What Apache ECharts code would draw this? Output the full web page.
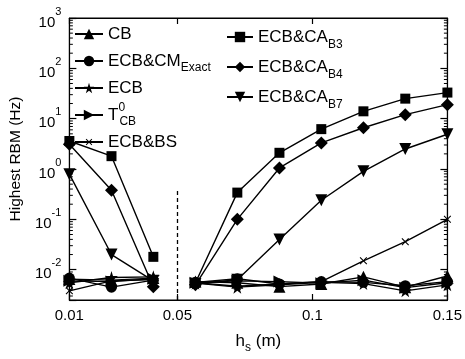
<!DOCTYPE html>
<html>
<head>
<meta charset="utf-8">
<script src="https://cdn.jsdelivr.net/npm/echarts@6/dist/echarts.min.js"></script>
<style>
  html, body { margin: 0; padding: 0; background: #fff; }
  #chart { width: 465px; height: 359px; }
</style>
</head>
<body>
<div id="chart"></div>
<script>
// Stiffener height sweep (m); the line breaks between the 3rd and 4th size
const hs = [0.01, 0.0256, 0.0411, 0.0567, 0.0722, 0.0878, 0.1033, 0.1189, 0.1344, 0.15];
const breakBefore = 3;

// Highest RBM frequency (Hz) for each model
const cb      = [0.0065, 0.0062, 0.0068, 0.0058, 0.0055, 0.0046, 0.0052, 0.0072, 0.0045, 0.0075];
const ecbCm   = [0.0068, 0.0045, 0.0062, 0.0056, 0.0066, 0.0052, 0.0058, 0.0056, 0.0048, 0.0058];
const ecb     = [0.0055, 0.0070, 0.0072, 0.0054, 0.0045, 0.0050, 0.0056, 0.0053, 0.0038, 0.0050];
const t0cb    = [0.0060, 0.0058, 0.0066, 0.0055, 0.0060, 0.0058, 0.0054, 0.0062, 0.0044, 0.0055];
const ecbBs   = [0.0038, 0.0060, 0.0064, 0.0055, 0.0047, 0.0052, 0.0058, 0.0150, 0.036, 0.10];
const ecbCaB3 = [3.6, 1.8, 0.018, 0.0055, 0.34, 2.1, 6.2, 14, 25, 33];
const ecbCaB4 = [3.1, 0.38, 0.0046, 0.0050, 0.10, 1.05, 3.3, 6.6, 12, 19];
const ecbCaB7 = [0.79, 0.020, 0.0060, 0.0052, 0.0063, 0.040, 0.24, 0.90, 2.5, 4.9];

// Axis ticks
const xTicks = [0.01, 0.05, 0.1, 0.15];
const yMin = 0.0025, yMax = 1000;

// Dashed divider between the two size ranges
const dividerX = 0.05, dividerTop = 0.38;

const starPath = 'path://M50,0 L61,35 L98,35 L68,57 L79,91 L50,70 L21,91 L32,57 L2,35 L39,35 Z';
// Thin "x" marker; the two empty sub-paths pad its box so it stays small next to the other symbols
const crossPath = 'path://M-3,-3 L-3,-3 Z M13,13 L13,13 Z M0,1 L1,0 L5,4 L9,0 L10,1 L6,5 L10,9 L9,10 L5,6 L1,10 L0,9 L4,5 Z';

function toPairs(vals) {
  const out = [];
  vals.forEach((v, i) => {
    if (i === breakBefore) out.push(['-', '-']);
    out.push([hs[i], v]);
  });
  return out;
}

// Log minor tick positions (2..9 in every decade)
const minorVals = [];
for (let e = -3; e < 3; e++) {
  for (let m = 2; m <= 9; m++) {
    const v = m * Math.pow(10, e);
    if (v > yMin && v < yMax) minorVals.push(v);
  }
}

const legendNames = {
  'CB': 'CB',
  'ECB&CM': '{b|ECB&CM}{sub|Exact}',
  'ECB': 'ECB',
  'T0': '{b|T}{supn|0}{sub|CB}',
  'ECB&BS': 'ECB&BS',
  'ECB&CA3': '{b|ECB&CA}{sub|B3}',
  'ECB&CA4': '{b|ECB&CA}{sub|B4}',
  'ECB&CA7': '{b|ECB&CA}{sub|B7}'
};

const richLegend = {
  b: { fontSize: 17, fontFamily: 'Liberation Sans', color: '#000', verticalAlign: 'middle' },
  sub: { fontSize: 12, fontFamily: 'Liberation Sans', color: '#000', verticalAlign: 'bottom' },
  supn: { fontSize: 12, fontFamily: 'Liberation Sans', color: '#000', verticalAlign: 'top', width: 1 }
};

function lineSeries(name, vals, symbol, size, rotate) {
  return {
    name: name,
    type: 'line',
    data: toPairs(vals),
    symbol: symbol,
    symbolSize: size,
    symbolRotate: rotate || 0,
    showSymbol: true,
    connectNulls: false,
    lineStyle: { color: '#000', width: 1.4 },
    itemStyle: { color: '#000', borderWidth: 0 },
    emphasis: { disabled: true },
    z: 3
  };
}

const series = [
  lineSeries('CB', cb, 'triangle', 12),
  lineSeries('ECB&CM', ecbCm, 'circle', 11),
  lineSeries('ECB', ecb, starPath, 13),
  lineSeries('T0', t0cb, 'triangle', 12, -90),
  lineSeries('ECB&BS', ecbBs, crossPath, 12),
  lineSeries('ECB&CA3', ecbCaB3, 'rect', 10),
  lineSeries('ECB&CA4', ecbCaB4, 'diamond', 13),
  lineSeries('ECB&CA7', ecbCaB7, 'triangle', 12, 180)
];

series[0].markLine = {
  silent: true,
  symbol: 'none',
  label: { show: false },
  lineStyle: { color: '#000', type: [4, 3], width: 1.3 },
  data: [[{ coord: [dividerX, yMin] }, { coord: [dividerX, dividerTop] }]]
};

// Minor log ticks on both vertical sides of the box
series.push({
  type: 'custom',
  silent: true,
  clip: false,
  data: minorVals.map(v => [xTicks[0], v]),
  renderItem: function (params, api) {
    const v = api.value(1);
    const l = api.coord([xTicks[0], v]);
    const r = api.coord([xTicks[xTicks.length - 1], v]);
    return {
      type: 'group',
      children: [
        { type: 'line', shape: { x1: l[0], y1: l[1], x2: l[0] + 3.5, y2: l[1] }, style: { stroke: '#000', lineWidth: 1 } },
        { type: 'line', shape: { x1: r[0], y1: r[1], x2: r[0] - 3.5, y2: r[1] }, style: { stroke: '#000', lineWidth: 1 } }
      ]
    };
  },
  z: 2
});

const axisFont = 'Liberation Sans';

function isDecade(v) {
  const e = Math.log10(v);
  return Math.abs(e - Math.round(e)) < 1e-6;
}

const option = {
  animation: false,
  backgroundColor: '#fff',
  grid: { left: 67, right: 17, top: 18, bottom: 48, show: true, borderColor: '#000', borderWidth: 1 },
  legend: [
    {
      orient: 'vertical', left: 74, top: 21, padding: 0,
      data: ['CB', 'ECB&CM', 'ECB', 'T0', 'ECB&BS'],
      itemWidth: 28, itemHeight: 13, itemGap: 1,
      formatter: n => legendNames[n],
      textStyle: { fontSize: 17, fontFamily: 'Liberation Sans', color: '#000', lineHeight: 26, rich: richLegend },
      selectedMode: false
    },
    {
      orient: 'vertical', left: 226, top: 23, padding: 0,
      data: ['ECB&CA3', 'ECB&CA4', 'ECB&CA7'],
      itemWidth: 26, itemHeight: 13, itemGap: 2,
      formatter: n => legendNames[n],
      textStyle: { fontSize: 17, fontFamily: 'Liberation Sans', color: '#000', lineHeight: 28, rich: richLegend },
      selectedMode: false
    }
  ],
  xAxis: [
    {
      type: 'value', min: 0.01, max: 0.15, position: 'bottom',
      name: '{i|h}{s|s}{i| (m)}', nameLocation: 'middle', nameGap: 28,
      nameTextStyle: {
        rich: {
          i: { fontSize: 17, fontFamily: axisFont, color: '#000', verticalAlign: 'middle' },
          s: { fontSize: 12, fontFamily: axisFont, color: '#000', verticalAlign: 'bottom' }
        },
        lineHeight: 26
      },
      axisLine: { show: true, lineStyle: { color: '#000', width: 1.2 } },
      axisTick: { show: true, inside: true, length: 6, customValues: xTicks, lineStyle: { color: '#000', width: 1.2 } },
      axisLabel: { customValues: xTicks, formatter: v => String(v), fontSize: 15, fontFamily: axisFont, color: '#000', margin: 8 },
      splitLine: { show: false }
    },
    {
      type: 'value', min: 0.01, max: 0.15, position: 'top',
      axisLine: { show: true, lineStyle: { color: '#000', width: 1.2 } },
      axisTick: { show: true, inside: true, length: 6, customValues: xTicks, lineStyle: { color: '#000', width: 1.2 } },
      axisLabel: { show: false },
      splitLine: { show: false }
    }
  ],
  yAxis: [
    {
      type: 'log', logBase: 10, min: yMin, max: yMax, position: 'left',
      name: 'Highest RBM (Hz)', nameLocation: 'middle', nameGap: 29,
      nameTextStyle: { fontSize: 15.5, fontFamily: axisFont, color: '#000' },
      axisLine: { show: true, lineStyle: { color: '#000', width: 1.2 } },
      axisTick: { show: true, inside: true, length: 7, lineStyle: { color: '#000', width: 1.2 } },
      axisLabel: {
        fontSize: 15, fontFamily: axisFont, color: '#000', margin: 8,
        formatter: v => isDecade(v) ? '{b|10}{e|' + Math.round(Math.log10(v)) + '}' : '',
        rich: {
          b: { fontSize: 15, fontFamily: axisFont, color: '#000', verticalAlign: 'bottom', lineHeight: 24 },
          e: { fontSize: 11, fontFamily: axisFont, color: '#000', verticalAlign: 'top', lineHeight: 24 }
        }
      },
      splitLine: { show: false }
    },
    {
      type: 'log', logBase: 10, min: yMin, max: yMax, position: 'right',
      axisLine: { show: true, lineStyle: { color: '#000', width: 1.2 } },
      axisTick: { show: true, inside: true, length: 7, lineStyle: { color: '#000', width: 1.2 } },
      axisLabel: { show: false },
      splitLine: { show: false }
    }
  ],
  series: series
};

const chart = echarts.init(document.getElementById('chart'), null, { renderer: 'canvas' });
chart.setOption(option);
</script>
</body>
</html>
